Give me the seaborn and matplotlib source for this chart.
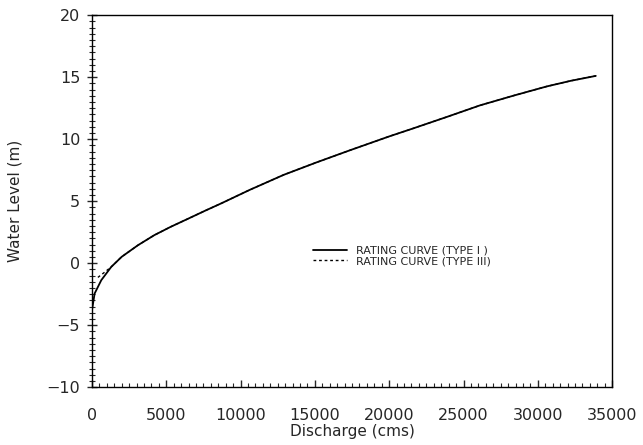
import matplotlib
matplotlib.use("Agg")
import matplotlib.pyplot as plt
import seaborn as sns
import pandas as pd
from matplotlib.ticker import MultipleLocator

# Rating curve Type I (solid)
q_type1 = [0, 180, 630, 1300, 2000, 3100, 4200, 5300, 6500, 7600, 8700,
           10600, 12900, 15100, 17400, 20000, 21600, 23900, 26100, 28400,
           30600, 32200, 33900]
h_type1 = [-3.8, -2.45, -1.37, -0.30, 0.51, 1.45, 2.26, 2.93, 3.60, 4.22,
           4.82, 5.90, 7.12, 8.12, 9.12, 10.22, 10.86, 11.80, 12.72, 13.52,
           14.25, 14.70, 15.10]

# Rating curve Type III (dotted)
q_type3 = [400, 800, 1300, 2000, 3100, 4200, 5300, 6500, 7600, 8700,
           10600, 12900, 15100, 17400, 20000, 21600, 23900, 26100, 28400,
           30600, 32200, 33900]
h_type3 = [-1.15, -0.78, -0.30, 0.51, 1.45, 2.26, 2.93, 3.60, 4.22,
           4.82, 5.90, 7.12, 8.12, 9.12, 10.22, 10.86, 11.80, 12.72, 13.52,
           14.25, 14.70, 15.10]

label1 = "RATING CURVE (TYPE I )"
label3 = "RATING CURVE (TYPE III)"

sns.set_style("ticks")
plt.rcParams['font.family'] = ['DejaVu Sans']

df1 = pd.DataFrame({"Q": q_type1, "H": h_type1})
df3 = pd.DataFrame({"Q": q_type3, "H": h_type3})

fig = plt.figure(figsize=(6.43, 4.45), dpi=100)
ax = fig.add_axes([0.143, 0.130, 0.809, 0.836])

sns.lineplot(data=df3, x="Q", y="H", ax=ax, color="black", lw=1.0,
             linestyle=(0, (2, 2)), label=label3, sort=False)
sns.lineplot(data=df1, x="Q", y="H", ax=ax, color="black", lw=1.3,
             label=label1, sort=False)

ax.set_xlim(0, 35000)
ax.set_ylim(-10, 20)
ax.xaxis.set_major_locator(MultipleLocator(5000))
ax.xaxis.set_minor_locator(MultipleLocator(500))
ax.yaxis.set_major_locator(MultipleLocator(5))
ax.yaxis.set_minor_locator(MultipleLocator(0.5))

ax.tick_params(axis='x', which='major', direction='in', length=5, width=1,
               labelsize=11.5, pad=15, top=False)
ax.tick_params(axis='x', which='minor', direction='in', length=3, width=0.8, top=False)
ax.tick_params(axis='y', which='major', direction='inout', length=7, width=1,
               labelsize=11.5, pad=5, right=False)
ax.tick_params(axis='y', which='minor', direction='inout', length=4, width=0.8, right=False)

for s in ax.spines.values():
    s.set_visible(True)
    s.set_color("black")
    s.set_linewidth(1.0)

ax.set_xlabel("Discharge (cms)", fontsize=11, labelpad=1)
ax.set_ylabel("Water Level (m)", fontsize=11, labelpad=17)

handles, labels = ax.get_legend_handles_labels()
order = [labels.index(label1), labels.index(label3)]
ax.legend([handles[i] for i in order], [labels[i] for i in order],
          loc="upper left", bbox_to_anchor=(0.415, 0.395), frameon=False,
          fontsize=8, handlelength=3.0, handletextpad=0.8, labelspacing=0.05,
          borderpad=0)

fig.savefig("out.png", dpi=100)
